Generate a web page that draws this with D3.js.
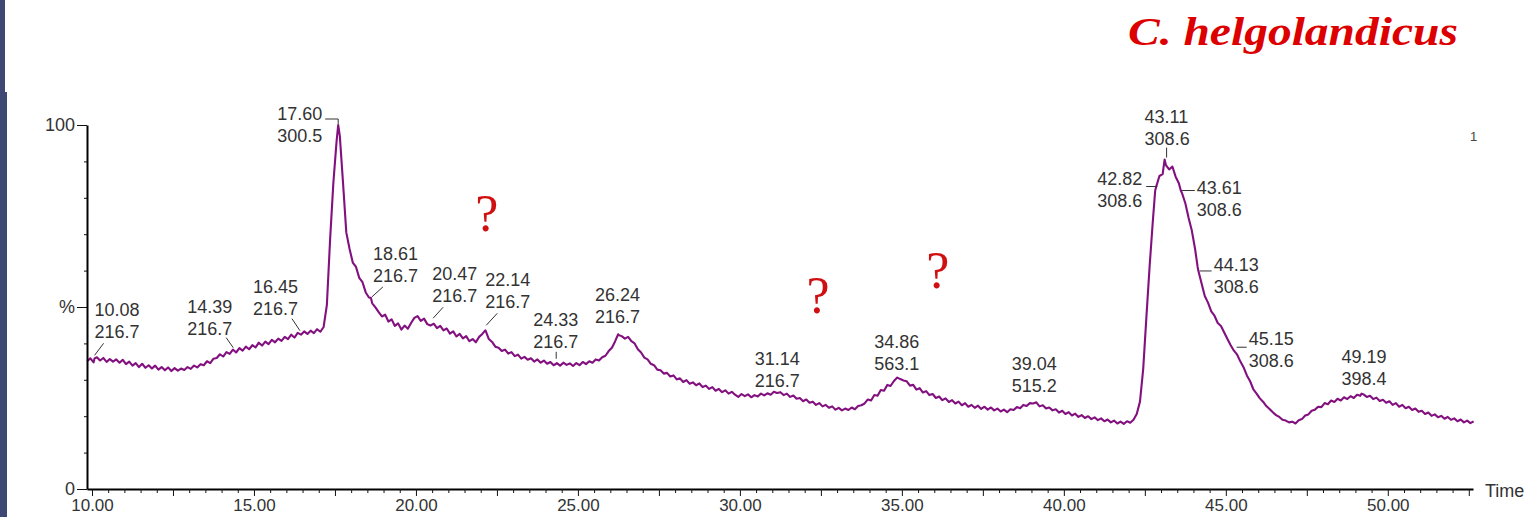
<!DOCTYPE html>
<html><head><meta charset="utf-8">
<script src="https://cdn.jsdelivr.net/npm/d3@7"></script>
<style>
html,body{margin:0;padding:0;background:#fff;}
svg{display:block;}
</style></head><body>
<svg id="chart" width="1535" height="517"></svg>
<script>
// Total ion chromatogram, relative intensity (%) sampled every 0.1 min
const scanStart = 9.85;
const scanStep = 0.1;
const intensity = [
  35.1, 35.9, 34.8, 36.2, 35.3, 36.0, 34.9, 35.7, 35.0, 35.6,
  34.7, 35.5, 34.3, 35.0, 33.9, 34.6, 33.5, 34.4, 33.3, 34.0,
  33.1, 33.9, 32.8, 33.5, 32.6, 33.4, 32.4, 33.2, 32.5, 33.1,
  32.7, 33.5, 33.0, 33.9, 33.4, 34.3, 34.0, 35.1, 34.6, 35.8,
  36.0, 37.0, 36.4, 37.6, 37.1, 38.3, 37.5, 38.7, 38.0, 39.1,
  38.4, 39.5, 38.9, 40.2, 39.4, 40.5, 39.8, 41.0, 40.3, 41.3,
  40.7, 41.8, 41.2, 42.4, 41.6, 42.9, 42.4, 43.3, 42.6, 43.5,
  42.8, 43.9, 43.2, 44.5, 50.5, 68.5, 84.0, 95.5, 97.0, 84.0,
  70.5, 66.0, 62.2, 61.0, 58.0, 56.8, 54.0, 52.6, 51.0, 49.9,
  48.6, 47.4, 47.9, 46.0, 46.6, 44.8, 45.5, 43.8, 44.9, 44.0,
  45.6, 47.0, 47.5, 46.2, 46.8, 45.3, 44.9, 45.4, 44.2, 44.8,
  43.6, 44.1, 42.7, 43.3, 41.9, 42.6, 41.4, 42.0, 40.6, 41.2,
  40.3, 41.8, 42.6, 43.5, 41.2, 40.4, 39.1, 38.8, 37.9, 38.3,
  37.2, 37.6, 36.5, 36.9, 35.8, 36.3, 35.5, 35.9, 35.0, 35.6,
  34.7, 35.3, 34.4, 34.9, 34.0, 34.6, 33.9, 34.7, 34.1, 34.5,
  33.8, 34.6, 34.0, 34.9, 34.3, 35.1, 34.7, 35.6, 35.3, 36.2,
  36.6, 37.9, 38.8, 40.6, 42.3, 42.0, 41.3, 41.8, 40.6, 40.0,
  38.4, 37.5, 36.1, 35.6, 34.4, 34.0, 32.8, 32.6, 31.7, 31.9,
  30.9, 31.2, 30.1, 30.4, 29.4, 29.9, 28.9, 29.3, 28.5, 29.0,
  28.0, 28.4, 27.5, 28.0, 27.0, 27.5, 26.6, 27.1, 26.2, 26.7,
  25.9, 25.3, 26.1, 25.5, 26.0, 25.2, 25.8, 25.4, 26.2, 25.7,
  26.3, 25.9, 26.7, 26.4, 26.6, 25.8, 26.2, 25.3, 25.7, 24.8,
  25.0, 24.1, 24.6, 23.7, 24.0, 23.1, 23.6, 22.7, 23.1, 22.3,
  22.7, 21.8, 22.3, 21.6, 22.1, 21.7, 22.4, 21.9, 22.8, 23.0,
  23.5, 24.6, 24.3, 25.8, 25.6, 27.2, 27.0, 28.6, 28.3, 29.6,
  30.6, 30.2, 29.8, 29.6, 28.4, 28.6, 27.3, 27.7, 26.5, 26.9,
  25.8, 26.1, 25.0, 25.4, 24.4, 24.9, 23.9, 24.4, 23.5, 24.0,
  23.0, 23.6, 22.6, 23.1, 22.3, 22.9, 22.0, 22.6, 21.8, 22.4,
  21.6, 22.1, 21.3, 21.8, 21.1, 21.9, 21.7, 22.5, 22.2, 23.1,
  22.8, 23.6, 23.5, 23.8, 22.7, 23.0, 22.1, 22.4, 21.6, 21.9,
  21.0, 21.5, 20.6, 21.1, 20.2, 20.7, 19.8, 20.3, 19.5, 20.0,
  19.2, 19.7, 18.9, 19.4, 18.6, 19.1, 18.3, 18.8, 18.0, 18.5,
  17.9, 18.6, 18.2, 19.0, 20.6, 24.0, 33.0, 47.5, 61.5, 74.0,
  83.0, 86.0, 86.5, 89.0, 87.8, 88.6, 85.8, 84.0, 81.2, 78.5,
  74.5, 71.0, 66.0, 60.0, 56.5, 53.0, 51.2, 48.8, 47.6, 45.6,
  44.8, 43.0, 41.2, 39.5, 38.0, 36.9, 35.0, 33.4, 31.2, 29.6,
  27.4, 26.2, 24.9, 24.0, 22.8, 22.0, 21.1, 20.3, 19.8, 19.0,
  18.8, 18.3, 18.5, 18.0, 18.9, 19.2, 20.2, 20.5, 21.5, 21.8,
  22.6, 22.5, 23.6, 23.3, 24.3, 23.9, 24.8, 24.3, 25.2, 24.7,
  25.5, 25.0, 25.9, 25.6, 26.0, 25.3, 25.6, 24.7, 25.1, 24.2,
  24.5, 23.7, 24.1, 23.1, 23.6, 22.6, 23.1, 22.2, 22.6, 21.7,
  22.1, 21.2, 21.5, 20.6, 21.0, 20.1, 20.5, 19.7, 20.1, 19.3,
  19.8, 19.0, 19.4, 18.6, 19.1, 18.3, 18.8, 18.1, 18.6
];

// Labelled peaks: retention time (min), base-peak m/z, relative intensity (%)
const peakTimes = [10.08, 14.39, 16.45, 17.60, 18.61, 20.47, 22.14, 24.33, 26.24,
                   31.14, 34.86, 39.04, 42.82, 43.11, 43.61, 44.13, 45.15, 49.19];
const peakMasses = ["216.7", "216.7", "216.7", "300.5", "216.7", "216.7", "216.7", "216.7", "216.7",
                    "216.7", "563.1", "515.2", "308.6", "308.6", "308.6", "308.6", "308.6", "398.4"];
const peakIntensity = [35.9, 38.0, 42.4, 100, 52.5, 45.0, 43.6, 34.4, 42.5,
                       26.4, 30.6, 23.5, 82.0, 90.5, 82.0, 61.0, 39.5, 26.2];

// Unidentified components marked with "?"
const unknownTimes = [22.19, 32.41, 36.11];
const unknownLevels = [71, 48.4, 55.2];

// Axis ticks
const xTickValues = [10, 15, 20, 25, 30, 35, 40, 45, 50];
const xTickLabels = ["10.00", "15.00", "20.00", "25.00", "30.00", "35.00", "40.00", "45.00", "50.00"];
const yTickValues = [0, 50, 100];
const yTickLabels = ["0", "%", "100"];

const titleText = "C. helgolandicus";
const xAxisTitle = "Time";
const traceId = "1";

// Label placement relative to each peak point (px)
const labelLayout = [
  {tx: 0,   ty: -42, leader: [[9, -15], [0, -3]]},
  {tx: -47, ty: -38, leader: [[-8, -13], [-1, -3]]},
  {tx: -48, ty: -42, leader: [[-9, -16], [-1, -4]]},
  {tx: -61, ty: -5,  leader: [[-13, -6], [0, -6], [0, -1]]},
  {tx: 2,   ty: -38, leader: [[12, -11], [1, -1]]},
  {tx: 1,   ty: -45, leader: [[12, -18], [2, -7]]},
  {tx: 0,   ty: -44, leader: [[12, -17], [1, -5]]},
  {tx: -23, ty: -38, leader: [[0, -12], [0, -5]]},
  {tx: -23, ty: -33},
  {tx: -22, ty: -28},
  {tx: -23, ty: -30},
  {tx: -21, ty: -33},
  {tx: -58, ty: -6,  leader: [[-9, -4], [2, -4]]},
  {tx: -20, ty: -37, leader: [[2, -12], [2, -2]]},
  {tx: 16,  ty: 3,   leader: [[1, 0], [14, 0]]},
  {tx: 16,  ty: 4,   leader: [[2, 4], [14, 4]]},
  {tx: 18,  ty: 0,   leader: [[6, 2], [16, 2]]},
  {tx: -20, ty: -31}
];

const svg = d3.select("#chart");
const FONT = "'Liberation Sans', Arial, sans-serif";

// side band
svg.append("rect").attr("x", 0).attr("y", 0).attr("width", 5).attr("height", 92).attr("fill", "#3e4872");
svg.append("rect").attr("x", 0).attr("y", 92).attr("width", 7).attr("height", 425).attr("fill", "#3e4872");

const xMin = 9.846, xMax = 52.63;
const x = d3.scaleLinear().domain([xMin, xMax]).range([87, 1473]);
const y = d3.scaleLinear().domain([0, 100]).range([489, 125]);

// trace points: regular scans plus the labelled apexes
const scans = intensity.map((v, i) => ({t: scanStart + i * scanStep, v}));
const apexes = peakTimes.map((t, i) => ({t, v: peakIntensity[i]}));
const trace = scans.concat(apexes).sort((a, b) => a.t - b.t);

const line = d3.line().x(d => x(d.t)).y(d => y(d.v));
svg.append("path")
  .datum(trace)
  .attr("d", line)
  .attr("fill", "none")
  .attr("stroke", "#82107f")
  .attr("stroke-width", 2.1)
  .attr("stroke-linejoin", "round");

// y axis
const yAxis = d3.axisLeft(y)
  .tickValues(d3.range(0, 101, 10))
  .tickSize(10).tickPadding(2).tickSizeOuter(0)
  .tickFormat(d => { const k = yTickValues.indexOf(d); return k >= 0 ? yTickLabels[k] : ""; });
const gy = svg.append("g").attr("transform", "translate(87,0)").call(yAxis);
gy.selectAll(".tick line").attr("x2", d => yTickValues.includes(d) ? -10 : -3).attr("stroke", "#111");
gy.select(".domain").attr("stroke", "#000").attr("stroke-width", 2);
gy.selectAll("text").attr("font-family", FONT).attr("font-size", 18).attr("fill", "#333");

// x axis
const xAxis = d3.axisBottom(x)
  .tickValues(d3.range(10, 52.6, 0.5))
  .tickSize(7).tickPadding(3).tickSizeOuter(0)
  .tickFormat(d => { const k = xTickValues.findIndex(v => Math.abs(v - d) < 1e-6); return k >= 0 ? xTickLabels[k] : ""; });
const gx = svg.append("g").attr("transform", "translate(0,489)").call(xAxis);
gx.selectAll(".tick line")
  .attr("y2", d => Math.abs(d / 2.5 - Math.round(d / 2.5)) < 1e-6 ? 7 : 4)
  .attr("stroke", "#111");
gx.select(".domain").attr("stroke", "#000").attr("stroke-width", 2);
gx.selectAll("text").attr("font-family", FONT).attr("font-size", 17).attr("fill", "#333");

svg.append("text").attr("x", 1485).attr("y", 497)
  .attr("font-family", FONT).attr("font-size", 18).attr("fill", "#333").text(xAxisTitle);
svg.append("text").attr("x", 1470).attr("y", 141)
  .attr("font-family", FONT).attr("font-size", 13).attr("fill", "#444").text(traceId);

// peak annotations
const lab = svg.append("g");
peakTimes.forEach((t, i) => {
  const px = x(t), py = y(peakIntensity[i]);
  const L = labelLayout[i];
  if (L.leader) {
    lab.append("path")
      .attr("d", d3.line()(L.leader.map(p => [px + p[0], py + p[1]])))
      .attr("fill", "none").attr("stroke", "#333").attr("stroke-width", 1);
  }
  const tx = lab.append("text")
    .attr("x", px + L.tx).attr("y", py + L.ty)
    .attr("font-family", FONT).attr("font-size", 18).attr("fill", "#333");
  tx.append("tspan").attr("x", px + L.tx).text(t.toFixed(2));
  tx.append("tspan").attr("x", px + L.tx).attr("dy", 22).text(peakMasses[i]);
});

// question marks
unknownTimes.forEach((t, i) => {
  svg.append("text")
    .attr("x", x(t)).attr("y", y(unknownLevels[i]))
    .attr("text-anchor", "middle")
    .attr("font-family", "'Liberation Serif', 'Times New Roman', serif")
    .attr("font-size", 52).attr("fill", "#d01010").text("?");
});

// title
svg.append("text")
  .attr("x", 1128).attr("y", 45)
  .attr("font-family", "'Liberation Serif', 'Times New Roman', serif")
  .attr("font-weight", "bold").attr("font-style", "italic")
  .attr("font-size", 39).attr("fill", "#dd0000")
  .attr("textLength", 330).attr("lengthAdjust", "spacingAndGlyphs")
  .text(titleText);
</script>
</body></html>
